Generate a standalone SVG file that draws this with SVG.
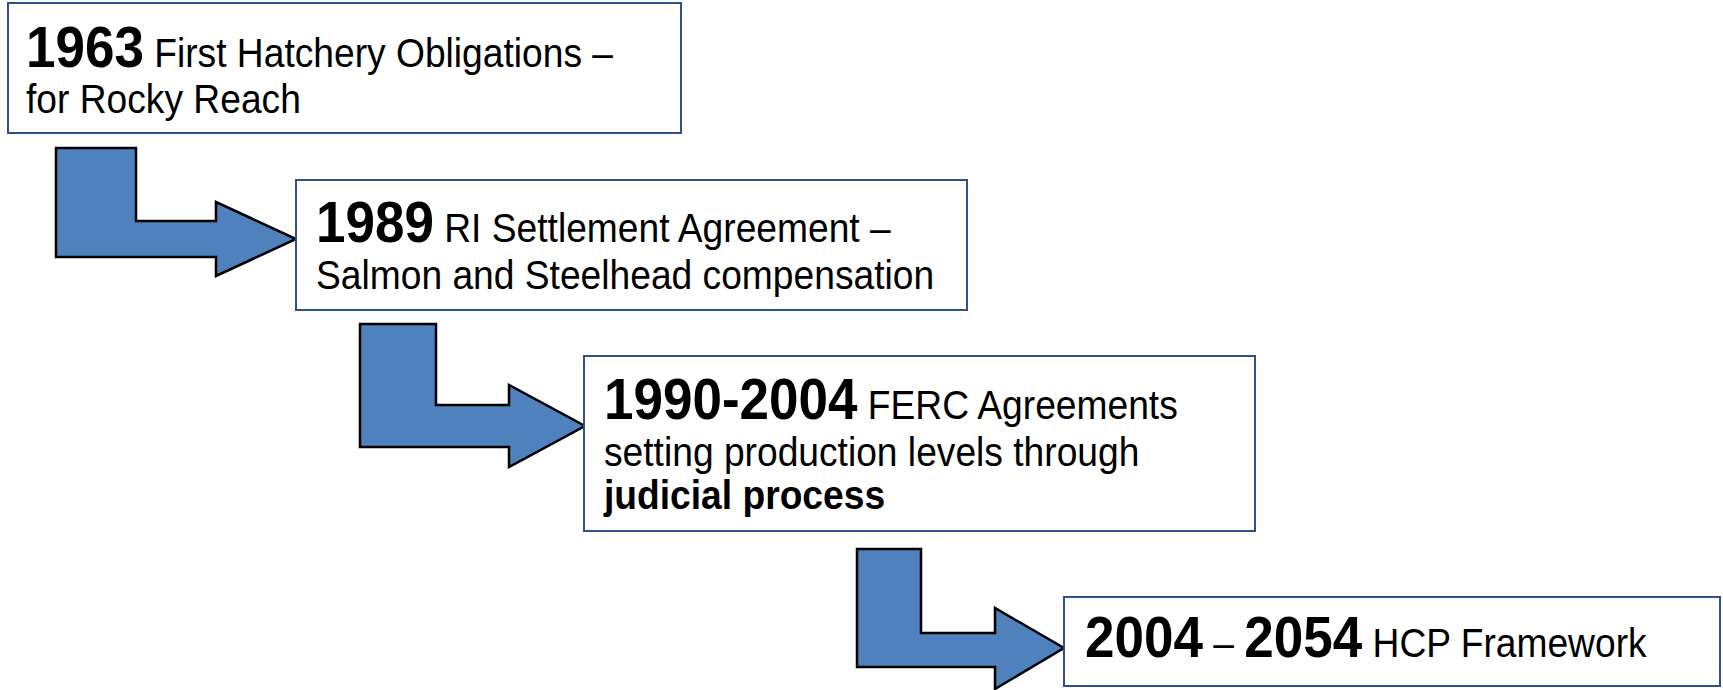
<svg xmlns="http://www.w3.org/2000/svg" width="1723" height="690" viewBox="0 0 1723 690">
<style>
.box{fill:#ffffff;stroke:#2E5283;stroke-width:2}
.arr{fill:#4F81BD;stroke:#000000;stroke-width:2.5;stroke-linejoin:miter}
.t{font-family:"Liberation Sans",Arial,sans-serif;font-size:40px;fill:#000000}
.b{font-weight:bold;font-size:57px}
.bb{font-weight:bold}
</style>
<rect width="1723" height="690" fill="#ffffff"/>
<g id="connectors">
<path class="arr" d="M56,148 H136 V221 H216 V202 L296,239 L216,276 V257 H56 Z"/>
<path class="arr" d="M360,324 H436 V405 H509 V385 L585,426 L509,467 V447 H360 Z"/>
<path class="arr" d="M857,549 H921 V633 H995 V608 L1064,648 L995,689 V667 H857 Z"/>
</g>
<g id="node1">
<rect class="box" x="8" y="3" width="673" height="130"/>
<text class="t" transform="translate(26,67) scale(0.93,1)"><tspan class="b">1963</tspan> First Hatchery Obligations –</text>
<text class="t" transform="translate(26,113) scale(0.93,1)">for Rocky Reach</text>
</g>
<g id="node2">
<rect class="box" x="296" y="180" width="671" height="130"/>
<text class="t" transform="translate(316,242) scale(0.93,1)"><tspan class="b">1989</tspan> RI Settlement Agreement –</text>
<text class="t" transform="translate(316,289) scale(0.93,1)">Salmon and Steelhead compensation</text>
</g>
<g id="node3">
<rect class="box" x="584" y="356" width="671" height="175"/>
<text class="t" transform="translate(604,419) scale(0.93,1)"><tspan class="b">1990-2004</tspan> FERC Agreements</text>
<text class="t" transform="translate(604,466) scale(0.93,1)">setting production levels through</text>
<text class="t bb" transform="translate(604,509) scale(0.93,1)">judicial process</text>
</g>
<g id="node4">
<rect class="box" x="1064" y="597" width="656" height="89"/>
<text class="t" transform="translate(1085,657) scale(0.93,1)"><tspan class="b">2004</tspan> – <tspan class="b">2054</tspan> HCP Framework</text>
</g>
</svg>
